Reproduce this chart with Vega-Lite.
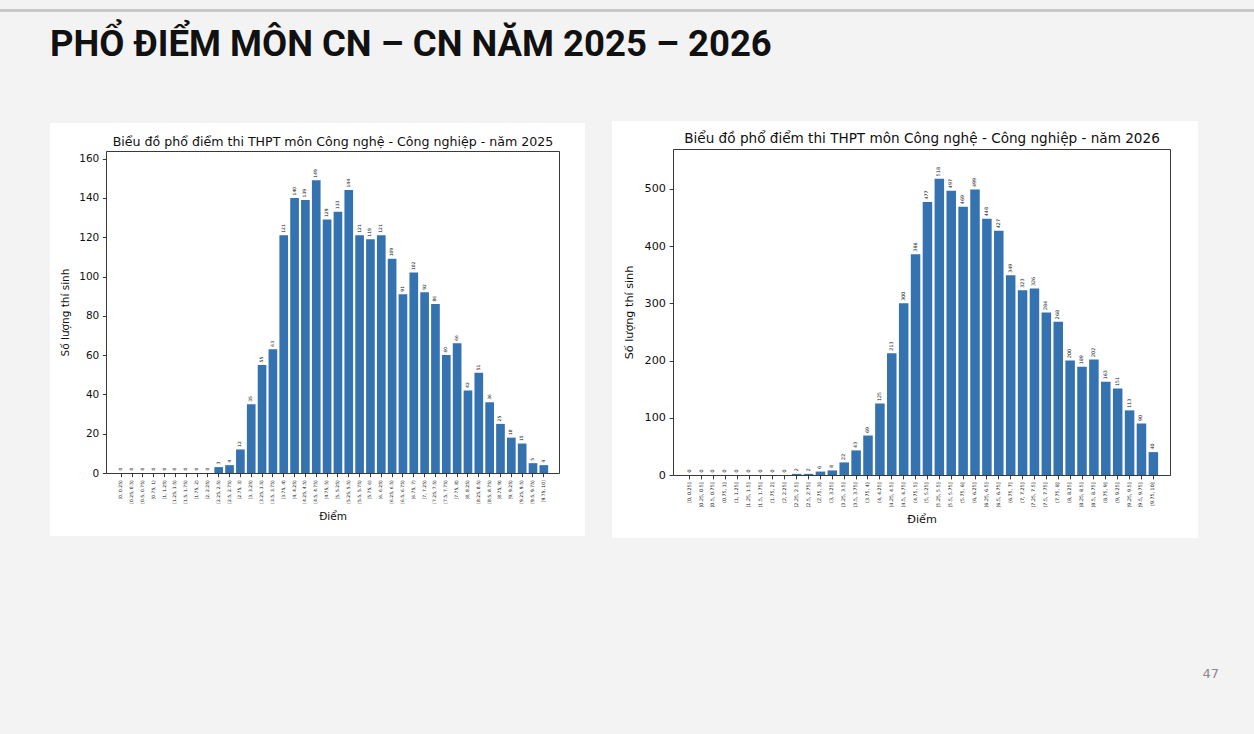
{
  "$schema": "https://vega.github.io/schema/vega-lite/v6.json",
  "background": "#f3f3f3",
  "padding": {"left": 0, "top": 4, "right": 0, "bottom": 53},
  "spacing": 58,
  "config": {
    "font": "DejaVu Sans",
    "axis": {
      "grid": false,
      "labelColor": "#111",
      "titleColor": "#111",
      "domainColor": "#222",
      "tickColor": "#222",
      "domainWidth": 0.9,
      "tickWidth": 0.9,
      "titleFontWeight": "normal",
      "labelFont": "DejaVu Sans",
      "titleFont": "DejaVu Sans",
      "labelOverlap": false
    }
  },
  "datasets": {
    "pho2025": [
      {"bin": "[0, 0.25)", "count": 0},
      {"bin": "[0.25, 0.5)", "count": 0},
      {"bin": "[0.5, 0.75)", "count": 0},
      {"bin": "[0.75, 1)", "count": 0},
      {"bin": "[1, 1.25)", "count": 0},
      {"bin": "[1.25, 1.5)", "count": 0},
      {"bin": "[1.5, 1.75)", "count": 0},
      {"bin": "[1.75, 2)", "count": 0},
      {"bin": "[2, 2.25)", "count": 0},
      {"bin": "[2.25, 2.5)", "count": 3},
      {"bin": "[2.5, 2.75)", "count": 4},
      {"bin": "[2.75, 3)", "count": 12},
      {"bin": "[3, 3.25)", "count": 35},
      {"bin": "[3.25, 3.5)", "count": 55},
      {"bin": "[3.5, 3.75)", "count": 63},
      {"bin": "[3.75, 4)", "count": 121},
      {"bin": "[4, 4.25)", "count": 140},
      {"bin": "[4.25, 4.5)", "count": 139},
      {"bin": "[4.5, 4.75)", "count": 149},
      {"bin": "[4.75, 5)", "count": 129},
      {"bin": "[5, 5.25)", "count": 133},
      {"bin": "[5.25, 5.5)", "count": 144},
      {"bin": "[5.5, 5.75)", "count": 121},
      {"bin": "[5.75, 6)", "count": 119},
      {"bin": "[6, 6.25)", "count": 121},
      {"bin": "[6.25, 6.5)", "count": 109},
      {"bin": "[6.5, 6.75)", "count": 91},
      {"bin": "[6.75, 7)", "count": 102},
      {"bin": "[7, 7.25)", "count": 92},
      {"bin": "[7.25, 7.5)", "count": 86},
      {"bin": "[7.5, 7.75)", "count": 60},
      {"bin": "[7.75, 8)", "count": 66},
      {"bin": "[8, 8.25)", "count": 42},
      {"bin": "[8.25, 8.5)", "count": 51},
      {"bin": "[8.5, 8.75)", "count": 36},
      {"bin": "[8.75, 9)", "count": 25},
      {"bin": "[9, 9.25)", "count": 18},
      {"bin": "[9.25, 9.5)", "count": 15},
      {"bin": "[9.5, 9.75)", "count": 5},
      {"bin": "[9.75, 10]", "count": 4}
    ],
    "pho2026": [
      {"bin": "[0, 0.25]", "count": 0},
      {"bin": "(0.25, 0.5]", "count": 0},
      {"bin": "(0.5, 0.75]", "count": 0},
      {"bin": "(0.75, 1]", "count": 0},
      {"bin": "(1, 1.25]", "count": 0},
      {"bin": "(1.25, 1.5]", "count": 0},
      {"bin": "(1.5, 1.75]", "count": 0},
      {"bin": "(1.75, 2]", "count": 0},
      {"bin": "(2, 2.25]", "count": 0},
      {"bin": "(2.25, 2.5]", "count": 2},
      {"bin": "(2.5, 2.75]", "count": 2},
      {"bin": "(2.75, 3]", "count": 6},
      {"bin": "(3, 3.25]", "count": 8},
      {"bin": "(3.25, 3.5]", "count": 22},
      {"bin": "(3.5, 3.75]", "count": 43},
      {"bin": "(3.75, 4]", "count": 69},
      {"bin": "(4, 4.25]", "count": 125},
      {"bin": "(4.25, 4.5]", "count": 213},
      {"bin": "(4.5, 4.75]", "count": 300},
      {"bin": "(4.75, 5]", "count": 386},
      {"bin": "(5, 5.25]", "count": 477},
      {"bin": "(5.25, 5.5]", "count": 518},
      {"bin": "(5.5, 5.75]", "count": 497},
      {"bin": "(5.75, 6]", "count": 469},
      {"bin": "(6, 6.25]", "count": 499},
      {"bin": "(6.25, 6.5]", "count": 448},
      {"bin": "(6.5, 6.75]", "count": 427},
      {"bin": "(6.75, 7]", "count": 349},
      {"bin": "(7, 7.25]", "count": 323},
      {"bin": "(7.25, 7.5]", "count": 326},
      {"bin": "(7.5, 7.75]", "count": 284},
      {"bin": "(7.75, 8]", "count": 268},
      {"bin": "(8, 8.25]", "count": 200},
      {"bin": "(8.25, 8.5]", "count": 189},
      {"bin": "(8.5, 8.75]", "count": 202},
      {"bin": "(8.75, 9]", "count": 163},
      {"bin": "(9, 9.25]", "count": 151},
      {"bin": "(9.25, 9.5]", "count": 113},
      {"bin": "(9.5, 9.75]", "count": 90},
      {"bin": "(9.75, 10]", "count": 40}
    ]
  },
  "vconcat": [
    {
      "width": 1254,
      "height": 3,
      "view": {"fill": "#c8c8c8", "stroke": null},
      "title": {
        "text": "PHỔ ĐIỂM MÔN CN – CN NĂM 2025 – 2026",
        "orient": "bottom",
        "anchor": "start",
        "dx": 50,
        "offset": 40,
        "baseline": "alphabetic",
        "font": "Roboto",
        "fontSize": 36.5,
        "fontWeight": "bold",
        "color": "#111"
      },
      "data": {"values": [{}]},
      "mark": "text",
      "encoding": {"text": {"value": ""}}
    },
    {
      "hconcat": [
        {
          "width": 23,
          "height": 10,
          "view": {"stroke": null},
          "data": {"values": [{}]},
          "mark": "text",
          "encoding": {"text": {"value": ""}}
        },
        {
          "width": 535,
          "height": 413,
          "view": {"fill": "white", "stroke": null},
          "data": {"name": "pho2025"},
          "layer": [
            {
              "mark": {"type": "bar", "color": "#3572b0"},
              "encoding": {
                "x": {
                  "field": "bin", "type": "nominal", "sort": null,
                  "scale": {"range": [56, 509], "paddingInner": 0.2, "paddingOuter": 1.99},
                  "axis": {
                    "orient": "bottom", "offset": -63, "title": "Điểm",
                    "labelAngle": -90, "labelFontSize": 4.5, "tickSize": 3.7,
                    "labelPadding": 3, "titleFontSize": 10.5, "titlePadding": 8
                  }
                },
                "y": {
                  "field": "count", "type": "quantitative",
                  "scale": {"domain": [0, 163.9], "range": [350, 28], "nice": false},
                  "axis": {
                    "orient": "left", "offset": -56, "title": "Số lượng thí sinh",
                    "values": [0, 20, 40, 60, 80, 100, 120, 140, 160],
                    "labelFontSize": 10.5, "tickSize": 3.7, "labelPadding": 3.5,
                    "titleFontSize": 10.5, "titlePadding": 8
                  }
                }
              }
            },
            {
              "mark": {"type": "text", "angle": 270, "align": "left", "baseline": "middle", "fontSize": 4.5, "yOffset": -2.5, "color": "#111"},
              "encoding": {
                "x": {
                  "field": "bin", "type": "nominal", "sort": null,
                  "axis": {
                    "orient": "top", "offset": -28, "labels": false, "ticks": false,
                    "title": "Biểu đồ phổ điểm thi THPT môn Công nghệ - Công nghiệp - năm 2025",
                    "titleFontSize": 12.6, "titlePadding": 6, "titleBaseline": "alphabetic"
                  }
                },
                "y": {
                  "field": "count", "type": "quantitative",
                  "axis": {"orient": "right", "offset": -26, "labels": false, "ticks": false, "title": null}
                },
                "text": {"field": "count", "type": "quantitative"}
              }
            }
          ],
          "resolve": {"axis": {"x": "independent", "y": "independent"}}
        },
        {
          "width": 586,
          "height": 417,
          "view": {"fill": "white", "stroke": null},
          "data": {"name": "pho2026"},
          "layer": [
            {
              "mark": {"type": "bar", "color": "#3572b0"},
              "encoding": {
                "x": {
                  "field": "bin", "type": "nominal", "sort": null,
                  "scale": {"range": [61, 558], "paddingInner": 0.2, "paddingOuter": 1.99},
                  "axis": {
                    "orient": "bottom", "offset": -63, "title": "Điểm",
                    "labelAngle": -90, "labelFontSize": 4.8, "tickSize": 3.9,
                    "labelPadding": 3, "titleFontSize": 11.2, "titlePadding": 6
                  }
                },
                "y": {
                  "field": "count", "type": "quantitative",
                  "scale": {"domain": [0, 569.8], "range": [354, 28], "nice": false},
                  "axis": {
                    "orient": "left", "offset": -61, "title": "Số lượng thí sinh",
                    "values": [0, 100, 200, 300, 400, 500],
                    "labelFontSize": 11.2, "tickSize": 3.9, "labelPadding": 3.7,
                    "titleFontSize": 11.2, "titlePadding": 10
                  }
                }
              }
            },
            {
              "mark": {"type": "text", "angle": 270, "align": "left", "baseline": "middle", "fontSize": 4.8, "yOffset": -2.5, "color": "#111"},
              "encoding": {
                "x": {
                  "field": "bin", "type": "nominal", "sort": null,
                  "axis": {
                    "orient": "top", "offset": -28, "labels": false, "ticks": false,
                    "title": "Biểu đồ phổ điểm thi THPT môn Công nghệ - Công nghiệp - năm 2026",
                    "titleFontSize": 13.6, "titlePadding": 7, "titleBaseline": "alphabetic"
                  }
                },
                "y": {
                  "field": "count", "type": "quantitative",
                  "axis": {"orient": "right", "offset": -28, "labels": false, "ticks": false, "title": null}
                },
                "text": {"field": "count", "type": "quantitative"}
              }
            }
          ],
          "resolve": {"axis": {"x": "independent", "y": "independent"}}
        }
      ],
      "spacing": 27,
      "center": true,
      "title": {
        "text": "47",
        "orient": "bottom",
        "anchor": "end",
        "dx": 21,
        "offset": 140,
        "baseline": "alphabetic",
        "font": "DejaVu Sans",
        "fontSize": 13,
        "fontWeight": "normal",
        "color": "#8a8a8a"
      }
    }
  ]
}
